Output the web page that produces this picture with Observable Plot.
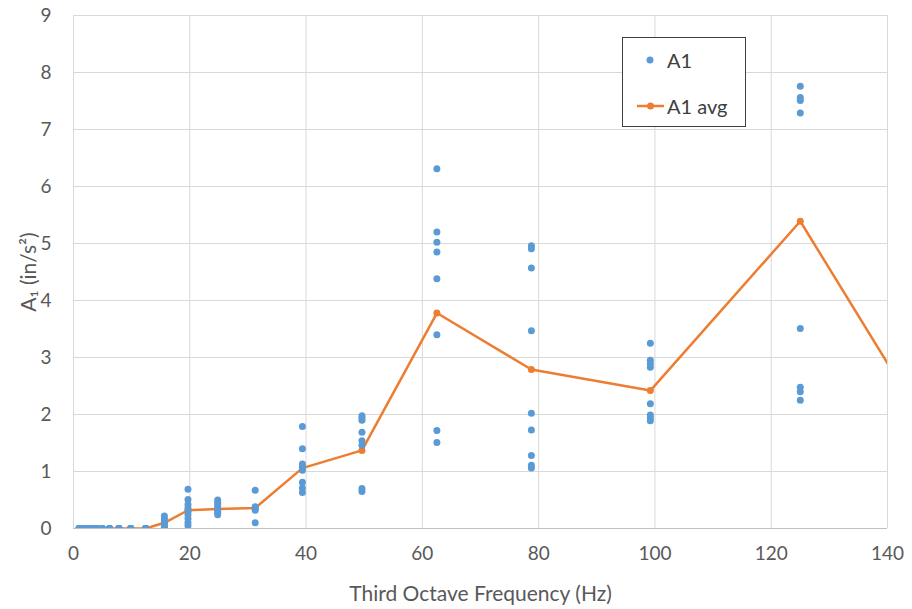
<!DOCTYPE html>
<html>
<head>
<meta charset="utf-8">
<script src="https://cdn.jsdelivr.net/npm/d3@7"></script>
<script src="https://cdn.jsdelivr.net/npm/@observablehq/plot@0.6"></script>
<style>
  html, body { margin: 0; padding: 0; background: #fff; }
  #wrap { position: relative; width: 912px; height: 609px; font-family: Lato, "Open Sans", sans-serif; }
  #legend { position: absolute; left: 622px; top: 37px; width: 124px; height: 90px; border: 1px solid #404040; background: #fff; box-sizing: border-box; }
  #legend .row { position: absolute; left: 0; display: flex; align-items: center; font-size: 20px; color: #404040; }
</style>
</head>
<body>
<div id="wrap"></div>
<script>
// Third-octave centre frequencies (Hz)
const freqs = [0.98, 1.23, 1.55, 1.95, 2.46, 3.10, 3.91, 4.92, 6.20, 7.81, 9.84, 12.40,
               15.63, 19.69, 24.80, 31.25, 39.37, 49.61, 62.50, 78.75, 99.21, 125.0, 157.49];
// A1 samples per frequency (in/s^2)
const a1Samples = [
  [0,0,0,0,0,0], [0,0,0,0,0,0], [0,0,0,0,0,0], [0,0,0,0,0,0], [0,0,0,0,0,0], [0,0,0,0,0,0],
  [0,0,0,0,0,0], [0,0,0,0,0,0], [0,0,0,0,0,0], [0,0,0,0,0,0], [0,0,0,0,0,0], [0,0,0,0,0,0],
  [0.22, 0.17, 0.13, 0.09, 0.05, 0.02, 0.0, 0.0],
  [0.69, 0.51, 0.42, 0.36, 0.30, 0.24, 0.17, 0.10, 0.05],
  [0.50, 0.46, 0.42, 0.38, 0.34, 0.30, 0.27, 0.24],
  [0.67, 0.38, 0.35, 0.32, 0.10],
  [1.79, 1.40, 1.13, 1.08, 1.02, 0.81, 0.71, 0.63],
  [1.98, 1.94, 1.90, 1.69, 1.54, 1.46, 0.70, 0.65],
  [6.31, 5.20, 5.02, 4.85, 4.38, 3.40, 1.72, 1.51],
  [4.96, 4.91, 4.57, 3.47, 2.02, 1.73, 1.28, 1.11, 1.06],
  [3.25, 2.95, 2.89, 2.83, 2.19, 1.99, 1.94, 1.89],
  [7.76, 7.56, 7.51, 7.29, 3.51, 2.48, 2.40, 2.25],
  []
];
// A1 average per frequency
const a1Avg = [0,0,0,0,0,0,0,0,0,0,0,0, 0.10, 0.32, 0.34, 0.36, 1.06, 1.37, 3.78, 2.79, 2.42, 5.39, 0];
const xTicks = [0, 20, 40, 60, 80, 100, 120, 140];
const yTicks = [0, 1, 2, 3, 4, 5, 6, 7, 8, 9];

const points = freqs.flatMap((f, i) => a1Samples[i].map(v => ({f, v})));
const avg = freqs.map((f, i) => ({f, v: a1Avg[i]}));

const blue = "#5B9BD5", orange = "#ED7D31";

const chart = Plot.plot({
  width: 912,
  height: 609,
  marginLeft: 73,
  marginRight: 25,
  marginTop: 15,
  marginBottom: 81,
  style: { fontFamily: "Lato, 'Open Sans', sans-serif", fontSize: "19px", color: "#595959", background: "#fff" },
  x: { domain: [0, 140], ticks: xTicks, tickSize: 0, tickPadding: 18, label: "Third Octave Frequency (Hz)", labelArrow: "none", labelAnchor: "center", labelOffset: 72 },
  y: { domain: [0, 9], ticks: yTicks, tickSize: 0, tickPadding: 22, label: "A\u2081 (in/s\u00B2)", labelArrow: "none", labelAnchor: "center", labelOffset: 52 },
  marks: [
    Plot.gridX(xTicks, { stroke: "#d9d9d9", strokeOpacity: 1, strokeWidth: 1 }),
    Plot.gridY(yTicks, { stroke: "#d9d9d9", strokeOpacity: 1, strokeWidth: 1 }),
    Plot.ruleY([0], { stroke: "#bfbfbf", strokeWidth: 1 }),
    Plot.line(avg, { x: "f", y: "v", stroke: orange, strokeWidth: 2.5, clip: true }),
    Plot.dot(avg, { x: "f", y: "v", r: 3.5, fill: orange, stroke: "none", clip: true }),
    Plot.dot(points, { x: "f", y: "v", r: 3.5, fill: blue, stroke: "none", clip: true })
  ]
});
chart.querySelectorAll("[aria-label='x-axis label'] text, [aria-label='y-axis label'] text").forEach(t => {
  t.setAttribute("font-size", "21px");
  t.textContent = t.textContent.replace(/\s*[→↑]\s*/g, "").trim();
});
document.getElementById("wrap").appendChild(chart);

// Legend overlay
const lg = document.createElement("div");
lg.id = "legend";
lg.innerHTML = `
  <div class="row" style="top:8px;">
    <svg width="44" height="28"><circle cx="27" cy="14" r="3.5" fill="${blue}"/></svg><span>A1</span>
  </div>
  <div class="row" style="top:54px;">
    <svg width="44" height="28"><line x1="14" y1="14" x2="41" y2="14" stroke="${orange}" stroke-width="2.5"/><circle cx="27.5" cy="14" r="3.5" fill="${orange}"/></svg><span>A1 avg</span>
  </div>`;
document.getElementById("wrap").appendChild(lg);
</script>
</body>
</html>
